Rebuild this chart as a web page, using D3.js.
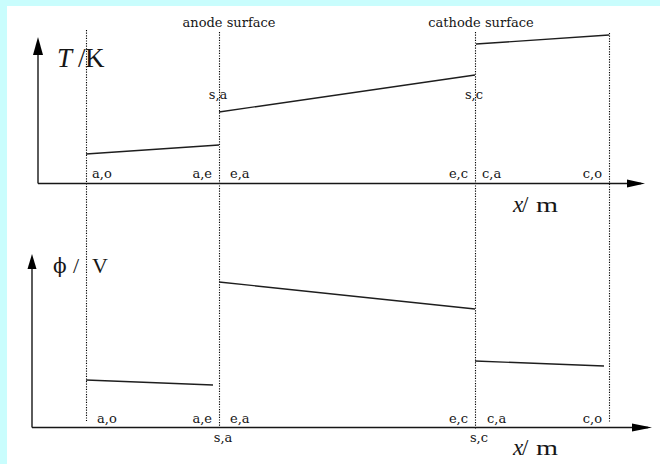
<!DOCTYPE html>
<html>
<head>
<meta charset="utf-8">
<script src="https://cdn.jsdelivr.net/npm/d3@7"></script>
<style>
  html, body { margin: 0; padding: 0; background: #ffffff; }
  svg { display: block; }
</style>
</head>
<body>
<svg id="chart" width="660" height="464"></svg>
<script>
// Layer interfaces along the cell (x in µm): outer anode, anode surface, cathode surface, outer cathode
const interfaceX = [0, 133, 389, 523];

// Temperature profile, one segment per layer (x start/end, T start/end in K)
const tempSegX = [[0, 133], [133, 389], [390, 523]];
const tempSegK = [[314.5, 319], [335.5, 354], [369.5, 374]];

// Potential profile, one segment per layer (x start/end, phi start/end in V)
const phiSegX = [[0, 127], [133, 389], [389, 518]];
const phiSegV = [[0.47, 0.42], [1.45, 1.18], [0.66, 0.61]];

// Boundary labels along each x axis
const edgeLabels = ["a,o", "a,e", "e,a", "e,c", "c,a", "c,o"];
const surfaceLabels = ["anode surface", "cathode surface"];
const surfacePointLabels = ["s,a", "s,c"];

const svg = d3.select("#chart");
const ink = "#161616";
const labelFont = "'DejaVu Serif', serif";
const titleFont = "'Liberation Serif', 'Times New Roman', serif";

// page frame: light cyan band on the left and top
svg.append("rect").attr("x", 0).attr("y", 0).attr("width", 660).attr("height", 464).attr("fill", "#c9fdfd");
svg.append("rect").attr("x", 7).attr("y", 6).attr("width", 653).attr("height", 458).attr("fill", "#ffffff");

const x = d3.scaleLinear().domain([0, 523]).range([86, 609]);
const yT = d3.scaleLinear().domain([300, 374]).range([183, 35]);
const yPhi = d3.scaleLinear().domain([0, 1.7]).range([427, 257]);

// dotted interface lines running through both panels
const dotTop = [30, 32, 32, 33];
const dotBottom = [421, 428, 429, 422];
svg.append("g").selectAll("line").data(interfaceX).join("line")
  .attr("x1", d => x(d) + 0.5).attr("x2", d => x(d) + 0.5)
  .attr("y1", (d, i) => dotTop[i]).attr("y2", (d, i) => dotBottom[i])
  .attr("stroke", "#000").attr("stroke-width", 1.1)
  .attr("stroke-dasharray", "1.2,1.4");

// axes with arrowheads
function axes(g, ox, oy, xEnd, yEnd, arrowLen, arrowHalf, xArrowLen) {
  g.append("line").attr("x1", ox).attr("x2", xEnd - 4).attr("y1", oy).attr("y2", oy)
    .attr("stroke", ink).attr("stroke-width", 1.4);
  g.append("line").attr("x1", ox).attr("x2", ox).attr("y1", oy).attr("y2", yEnd + 4)
    .attr("stroke", ink).attr("stroke-width", 1.4);
  g.append("path")
    .attr("d", `M${xEnd},${oy} L${xEnd - xArrowLen},${oy - 4} L${xEnd - xArrowLen},${oy + 4} Z`)
    .attr("fill", "#000");
  g.append("path")
    .attr("d", `M${ox},${yEnd} L${ox - arrowHalf},${yEnd + arrowLen} L${ox + arrowHalf},${yEnd + arrowLen} Z`)
    .attr("fill", "#000");
}
axes(svg.append("g"), 38, 183.5, 645, 37, 18, 5, 18);
axes(svg.append("g"), 32, 427.5, 652, 254, 15, 4.5, 20);

// profile segments
const line = (sx, sy) => d3.line().x(d => sx(d[0])).y(d => sy(d[1]));
const tempLine = line(x, yT);
const phiLine = line(x, yPhi);

svg.append("g").selectAll("path").data(tempSegX.map((xs, i) => [[xs[0], tempSegK[i][0]], [xs[1], tempSegK[i][1]]]))
  .join("path").attr("d", tempLine)
  .attr("fill", "none").attr("stroke", "#1e1e1e").attr("stroke-width", 1.4);

svg.append("g").selectAll("path").data(phiSegX.map((xs, i) => [[xs[0], phiSegV[i][0]], [xs[1], phiSegV[i][1]]]))
  .join("path").attr("d", phiLine)
  .attr("fill", "none").attr("stroke", "#1e1e1e").attr("stroke-width", 1.4);

// small boundary labels
function label(txt, px, py, anchor) {
  svg.append("text").text(txt)
    .attr("x", px).attr("y", py)
    .attr("text-anchor", anchor)
    .attr("font-family", labelFont).attr("font-size", 13)
    .attr("fill", ink);
}
const edgeX = [interfaceX[0], interfaceX[1], interfaceX[1], interfaceX[2], interfaceX[2], interfaceX[3]];
const edgeAnchor = ["start", "end", "start", "end", "start", "end"];
const edgeOffTop = [6, -7, 11, -7, 7, -7];
const edgeOffBottom = [11, -7, 11, -7, 12, -7];
edgeLabels.forEach((t, i) => {
  label(t, x(edgeX[i]) + edgeOffTop[i], 178, edgeAnchor[i]);
  label(t, x(edgeX[i]) + edgeOffBottom[i], 422.5, edgeAnchor[i]);
});

// surface markers
label(surfaceLabels[0], x(interfaceX[1]) + 10, 27, "middle");
label(surfaceLabels[1], x(interfaceX[2]) + 6, 27, "middle");
label(surfacePointLabels[0], x(interfaceX[1]) - 1, 99, "middle");
label(surfacePointLabels[1], x(interfaceX[2]) - 1, 99, "middle");
label(surfacePointLabels[0], x(interfaceX[1]) + 4, 442, "middle");
label(surfacePointLabels[1], x(interfaceX[2]) + 4, 442, "middle");

// axis titles
function xTitle(baseY) {
  const t = svg.append("text").attr("y", baseY).attr("font-family", titleFont).attr("fill", ink);
  t.append("tspan").attr("x", 513).attr("font-size", 23).attr("font-style", "italic").text("x");
  t.append("tspan").attr("x", 522).attr("font-size", 23).text("/");
  svg.append("text").attr("x", 536).attr("y", baseY).attr("font-family", titleFont)
    .attr("font-size", 22).attr("fill", ink)
    .attr("textLength", 22).attr("lengthAdjust", "spacingAndGlyphs").text("m");
}
xTitle(212);
xTitle(455);

const tTitle = svg.append("text").attr("y", 67).attr("font-family", titleFont)
  .attr("font-size", 27).attr("fill", ink);
tTitle.append("tspan").attr("x", 57).attr("font-style", "italic").text("T");
tTitle.append("tspan").attr("x", 78).text("/");
tTitle.append("tspan").attr("x", 85).text("K");

const pTitle = svg.append("text").attr("y", 273).attr("font-family", titleFont)
  .attr("font-size", 22).attr("fill", ink);
pTitle.append("tspan").attr("x", 53).attr("font-family", labelFont).attr("font-size", 20).text("ϕ");
pTitle.append("tspan").attr("x", 73).text("/");
pTitle.append("tspan").attr("x", 92).text("V");
</script>
</body>
</html>
